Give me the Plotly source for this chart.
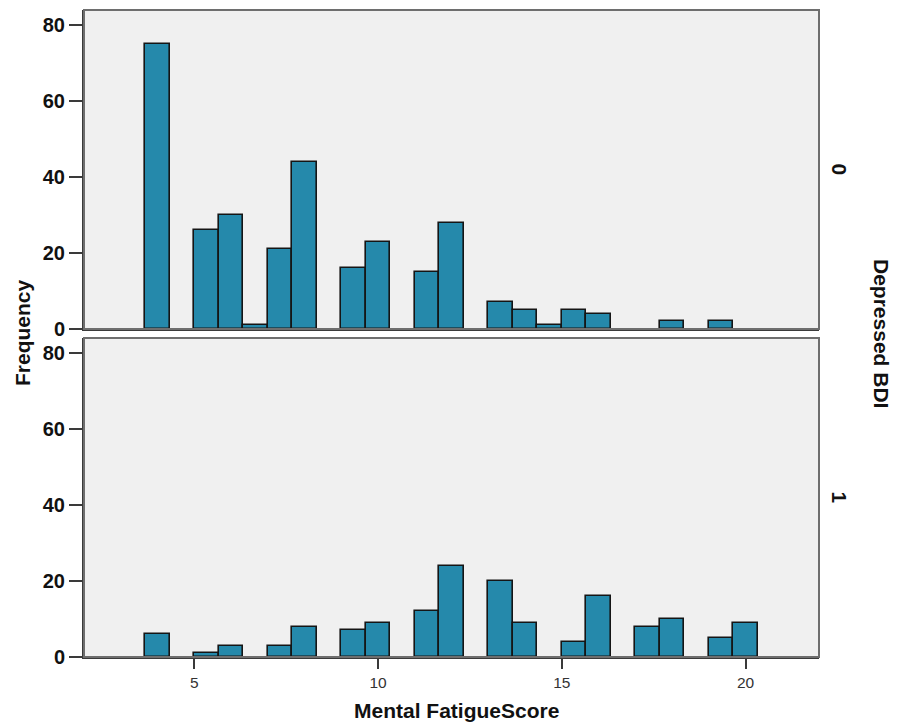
import plotly.graph_objects as go

# Histogram bins: width 2/3, first bin starts at 3 2/3
bin_start = 3 + 2 / 3
bin_width = 2 / 3

# Counts per bin for Mental FatigueScore, split by Depressed BDI group
counts_bdi0 = [75, 0, 26, 30, 1, 21, 44, 0, 16, 23, 0, 15, 28, 0, 7, 5, 1, 5, 4, 0, 0, 2, 0, 2, 0]
counts_bdi1 = [6, 0, 1, 3, 0, 3, 8, 0, 7, 9, 0, 12, 24, 0, 20, 9, 0, 4, 16, 0, 8, 10, 0, 5, 9]

x_ticks = [5, 10, 15, 20]
y_ticks = [0, 20, 40, 60, 80]
panel_labels = ["0", "1"]

BAR_FILL = "#2589AB"
FRAME = "#6e6e6e"
AXIS = "#3a3a3a"
FONT = "Liberation Sans"


def nonzero_bins(counts):
    xs, ys = [], []
    for i, c in enumerate(counts):
        if c > 0:
            xs.append(bin_start + (i + 0.5) * bin_width)
            ys.append(c)
    return xs, ys


fig = go.Figure()
for counts, (xa, ya) in zip([counts_bdi0, counts_bdi1], [("x", "y"), ("x2", "y2")]):
    xs, ys = nonzero_bins(counts)
    fig.add_trace(go.Bar(
        x=xs, y=ys, width=bin_width, xaxis=xa, yaxis=ya,
        marker=dict(color=BAR_FILL, line=dict(color="#151515", width=1.6)),
        showlegend=False, hoverinfo="x+y",
    ))

W, H = 897, 725
L, R, T, B = 84, 78, 10, 68
pw, ph = W - L - R, H - T - B


def px_x(p):
    return (p - L) / pw


def px_y(p):
    return (H - B - p) / ph


common_y = dict(
    range=[0, 84], tickvals=y_ticks, ticks="outside", ticklen=13, tickwidth=2,
    tickcolor=AXIS, showline=True, linecolor=AXIS, linewidth=2, showgrid=False,
    zeroline=False, tickfont=dict(family=FONT, size=20, color="#111", weight="bold"),
    fixedrange=True,
)
common_x = dict(
    range=[2, 22], showgrid=False, zeroline=False, showline=True,
    linecolor=AXIS, linewidth=2, fixedrange=True,
)

fig.update_layout(
    width=W, height=H,
    margin=dict(l=L, r=R, t=T, b=B),
    paper_bgcolor="white", plot_bgcolor="#F0F0F0",
    bargap=0,
    xaxis=dict(**common_x, anchor="y", showticklabels=False, ticks=""),
    yaxis=dict(**common_y, domain=[px_y(329), 1.0], anchor="x"),
    xaxis2=dict(**common_x, anchor="y2", matches="x", tickvals=x_ticks,
                ticks="outside", ticklen=10, tickwidth=2, tickcolor=AXIS,
                tickfont=dict(family=FONT, size=15.5, color="#333")),
    yaxis2=dict(**common_y, domain=[0.0, px_y(338)], anchor="x2"),
    font=dict(family=FONT),
)

# Frame around each panel
for xr, yr in [("x domain", "y domain"), ("x2 domain", "y2 domain")]:
    fig.add_shape(type="rect", xref=xr, yref=yr, x0=0, x1=1, y0=0, y1=1,
                  line=dict(color=FRAME, width=2), layer="above")

bold = dict(family=FONT, size=21, color="#111", weight="bold")
annos = [
    dict(text="Frequency", x=px_x(22), y=px_y(333), textangle=-90),
    dict(text="Mental FatigueScore", x=px_x(456), y=px_y(710), textangle=0),
    dict(text="Depressed BDI", x=px_x(882), y=px_y(334), textangle=90),
    dict(text=panel_labels[0], x=px_x(839), y=px_y(169.5), textangle=90),
    dict(text=panel_labels[1], x=px_x(839), y=px_y(497.5), textangle=90),
]
for a in annos:
    fig.add_annotation(xref="paper", yref="paper", xanchor="center", yanchor="middle",
                       showarrow=False, font=bold, **a)

fig.write_html("out.html")
